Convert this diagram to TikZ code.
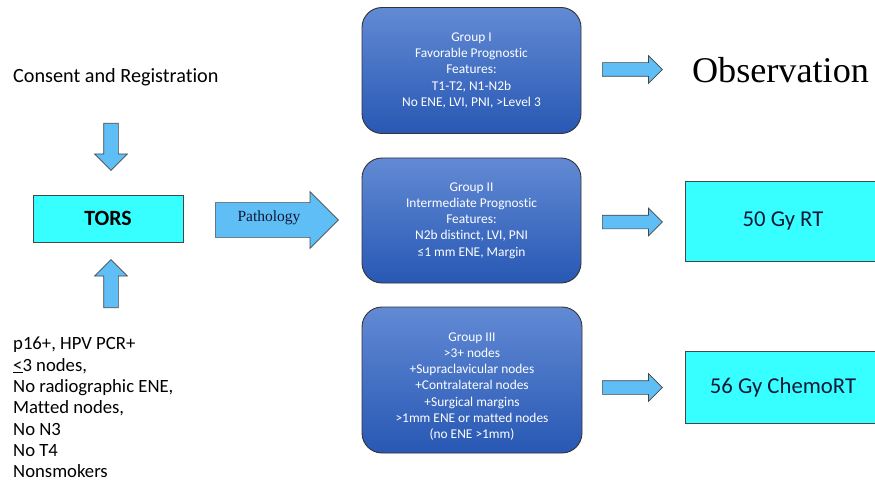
\documentclass[tikz,border=0pt]{standalone}
\usepackage{fontspec}
\setmainfont{Carlito}[Ligatures=NoCommon]
\newfontfamily\timesf{Liberation Serif}
\usetikzlibrary{shapes.arrows}
\definecolor{arrowblue}{RGB}{95,190,245}
\definecolor{boxcyan}{RGB}{55,255,255}
\definecolor{edgegray}{RGB}{70,70,70}
\definecolor{grouptop}{RGB}{98,138,212}
\definecolor{groupbot}{RGB}{40,88,180}
\definecolor{navytext}{RGB}{15,25,55}
\tikzset{
  blockarrow/.style={single arrow, draw=edgegray, fill=arrowblue, line width=0.7pt,
    single arrow tip angle=90, single arrow head indent=0pt, anchor=tail, inner xsep=0pt},
  smallarrow/.style={blockarrow, inner ysep=6.5pt, single arrow head extend=7pt, minimum height=60pt},
  vertarrow/.style={blockarrow, inner ysep=7pt, single arrow head extend=9pt, minimum height=47pt},
  cyanbox/.style={rectangle, draw=edgegray, fill=boxcyan, line width=0.8pt, inner sep=0pt},
  groupbox/.style={rectangle, rounded corners=20pt, draw=black!80, line width=0.9pt,
    top color=grouptop, bottom color=groupbot, minimum width=219pt, inner sep=0pt,
    text=white, align=center, font=\fontsize{13.4}{16.2}\selectfont},
  grouptext/.style={text=white, align=center, font=\fontsize{13.4}{16.2}\selectfont, inner sep=0pt},
  plaintext/.style={inner sep=0pt, font=\fontsize{20.2}{24}\selectfont, text=black}
}
\begin{document}
\begin{tikzpicture}[x=1pt,y=-1pt]
\useasboundingbox (0,0) rectangle (875,481);
% left column
\node[plaintext, anchor=west] (consent) at (13,77) {Consent and Registration};
\node[vertarrow, rotate=-90] (downarr) at (111,123) {};
\node[cyanbox, minimum width=150pt, minimum height=47pt, font=\fontsize{21.8}{26}\selectfont\bfseries] (tors) at (108,218.5) {TORS};
\node[vertarrow, rotate=90, minimum height=48pt] (uparr) at (111,308) {};
\node[plaintext, anchor=north west, align=left, font=\fontsize{18.7}{21.3}\selectfont] (criteria) at (13,337) {p16+, HPV PCR+\\\underline{<}3 nodes,\\No radiographic ENE,\\Matted nodes,\\No N3\\No T4\\Nonsmokers};
% pathology arrow
\node[blockarrow, inner ysep=17pt, single arrow head extend=11pt, minimum height=123pt] (patharr) at (215,220) {};
\node[font=\timesf\fontsize{15.5}{18}\selectfont, text=navytext, inner sep=0pt] (pathlabel) at (269,218) {Pathology};
% groups
\node[groupbox, minimum height=126pt] (g1) at (471.5,70.5) {Group I\\Favorable Prognostic\\Features:\\T1-T2, N1-N2b\\No ENE, LVI, PNI, >Level 3};
\node[groupbox, minimum height=125pt] (g2) at (471.5,220.5) {Group II\\Intermediate Prognostic\\Features:\\N2b distinct, LVI, PNI\\≤1 mm ENE, Margin};
\node[groupbox, minimum height=146pt, minimum width=220pt] (g3) at (472,380) {};
\node[grouptext] (g3text) at (472,386.5) {Group III\\>3+ nodes\\+Supraclavicular nodes\\+Contralateral nodes\\+Surgical margins\\>1mm ENE or matted nodes\\(no ENE >1mm)};
% small arrows
\node[smallarrow] (a1) at (602,69.5) {};
\node[smallarrow] (a2) at (602,222) {};
\node[smallarrow] (a3) at (602,387.5) {};
% outcomes
\node[inner sep=0pt, font=\timesf\fontsize{36.2}{40}\selectfont] (obs) at (780.5,70) {Observation};
\node[cyanbox, minimum width=196pt, minimum height=80pt, text=navytext, font=\fontsize{22.7}{27}\selectfont] (rt) at (783,221) {50 Gy RT};
\node[cyanbox, minimum width=196pt, minimum height=72pt, text=navytext, font=\fontsize{22.7}{27}\selectfont] (crt) at (783,387) {56 Gy ChemoRT};
\end{tikzpicture}
\end{document}
